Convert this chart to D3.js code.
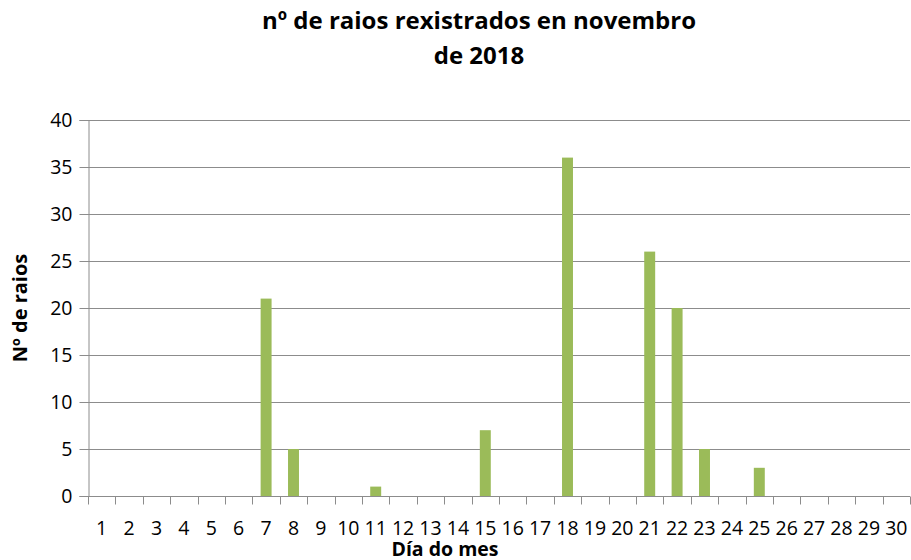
<!DOCTYPE html>
<meta charset="utf-8">
<script src="https://d3js.org/d3.v7.min.js"></script>
<style>
  body { margin: 0; background: #fff; }
  text { font-family: "Open Sans", sans-serif; fill: #000; }
</style>
<div id="chart"></div>
<script>

// days of November 2018
var dias = d3.range(1, 31).map(String);

// lightning strikes per day
var raios = [0, 0, 0, 0, 0, 0, 21, 5, 0, 0,
             1, 0, 0, 0, 7, 0, 0, 36, 0, 0,
             26, 20, 5, 0, 3, 0, 0, 0, 0, 0];

var yTicks = [0, 5, 10, 15, 20, 25, 30, 35, 40];

var data = dias.map(function(d, i) { return {dia: d, valor: raios[i]}; });

var width = 911, height = 560;
var margin = {top: 120, right: 1, bottom: 64, left: 88};
var w = width - margin.left - margin.right,
    h = height - margin.top - margin.bottom;

var svg = d3.select("#chart")
  .append("svg")
    .attr("width", width)
    .attr("height", height);

var g = svg.append("g")
  .attr("transform", "translate(" + margin.left + "," + margin.top + ")");

var x = d3.scaleBand()
  .domain(dias)
  .range([0, w])
  .padding(0);

var y = d3.scaleLinear()
  .domain([0, 40])
  .range([h, 0]);

// gridlines
g.append("g")
  .selectAll("line")
  .data(yTicks)
  .enter()
  .append("line")
    .attr("x1", 0)
    .attr("x2", w)
    .attr("y1", function(d) { return Math.round(y(d)) + 0.5; })
    .attr("y2", function(d) { return Math.round(y(d)) + 0.5; })
    .attr("stroke", "#8c8c8c")
    .attr("stroke-width", 1);

// bars
var barW = x.bandwidth() * 0.4;
g.append("g")
  .selectAll("rect")
  .data(data.filter(function(d) { return d.valor > 0; }))
  .enter()
  .append("rect")
    .attr("x", function(d) { return x(d.dia) + (x.bandwidth() - barW) / 2; })
    .attr("y", function(d) { return y(d.valor); })
    .attr("width", barW)
    .attr("height", function(d) { return h - y(d.valor); })
    .attr("fill", "#9bbb59");

// y axis
var yAxis = g.append("g")
  .attr("transform", "translate(0.5,0)")
  .call(d3.axisLeft(y).tickValues(yTicks).tickSize(9).tickPadding(7));
yAxis.selectAll("line, path").attr("stroke", "#8c8c8c");
yAxis.selectAll("text")
  .style("font-size", "19.5px")
  .style("font-family", "'Open Sans', sans-serif");

// x axis, ticks on category boundaries
var xAxis = g.append("g")
  .attr("transform", "translate(0," + (Math.round(h) + 0.5) + ")");
xAxis.append("line")
  .attr("x1", 0).attr("x2", w)
  .attr("stroke", "#8c8c8c");
xAxis.selectAll("line.tick")
  .data(d3.range(31))
  .enter()
  .append("line")
    .attr("class", "tick")
    .attr("x1", function(i) { return Math.round(i * x.step()) + 0.5; })
    .attr("x2", function(i) { return Math.round(i * x.step()) + 0.5; })
    .attr("y1", 0)
    .attr("y2", 8)
    .attr("stroke", "#8c8c8c");
xAxis.selectAll("text")
  .data(dias)
  .enter()
  .append("text")
    .attr("x", function(d) { return x(d) + x.bandwidth() / 2; })
    .attr("y", 38)
    .attr("text-anchor", "middle")
    .style("font-size", "19.5px")
    .text(function(d) { return d; });

// titles
svg.append("text")
  .attr("x", 479)
  .attr("y", 29)
  .attr("text-anchor", "middle")
  .style("font-size", "24px")
  .style("font-weight", "bold")
  .text("nº de raios rexistrados en novembro");
svg.append("text")
  .attr("x", 479)
  .attr("y", 64)
  .attr("text-anchor", "middle")
  .style("font-size", "24px")
  .style("font-weight", "bold")
  .text("de 2018");

svg.append("text")
  .attr("transform", "translate(27,308) rotate(-90)")
  .attr("text-anchor", "middle")
  .style("font-size", "20px")
  .style("font-weight", "bold")
  .text("Nº de raios");

svg.append("text")
  .attr("x", 445)
  .attr("y", 556)
  .attr("text-anchor", "middle")
  .style("font-size", "19.5px")
  .style("font-weight", "bold")
  .text("Día do mes");

</script>
